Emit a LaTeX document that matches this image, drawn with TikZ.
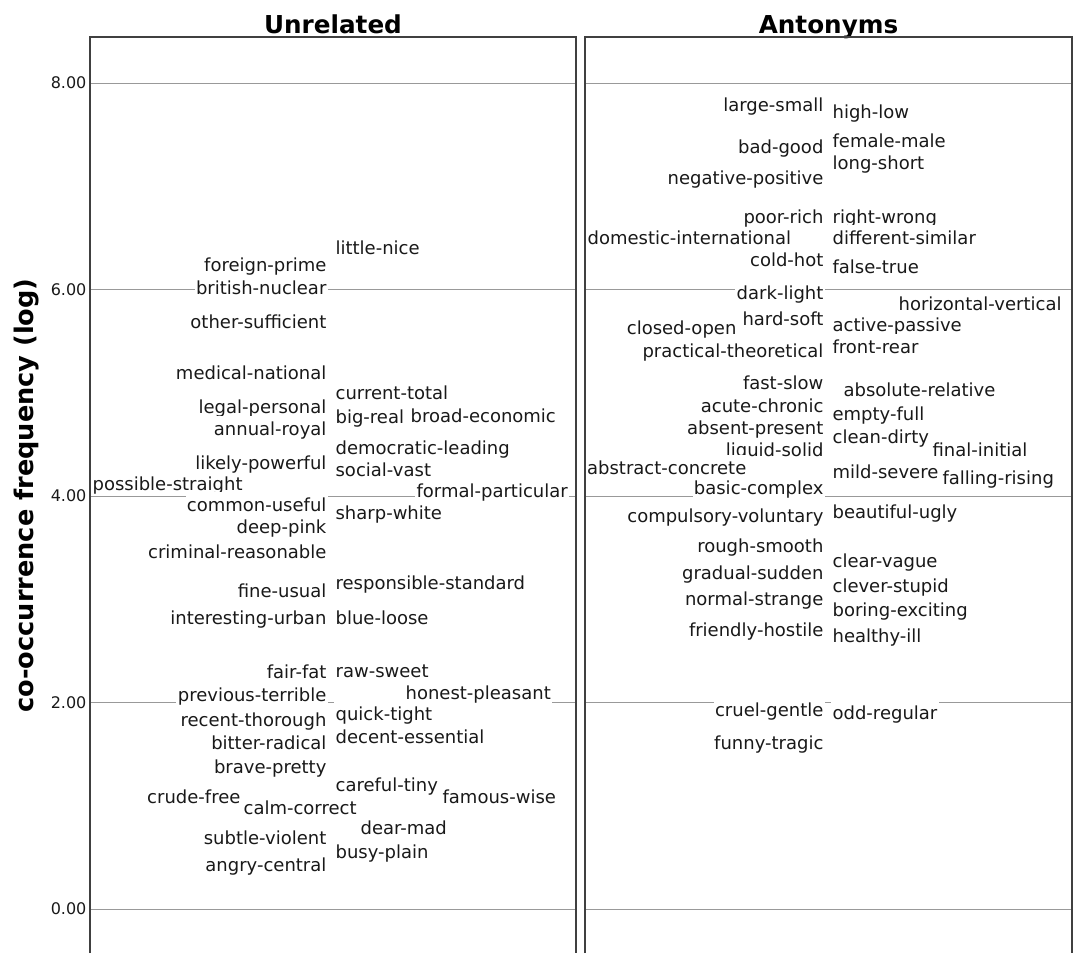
\documentclass[tikz,border=0pt]{standalone}
\usepackage{fontspec}
\setmainfont{DejaVu Sans}
\usetikzlibrary{positioning}

\begin{document}
\begin{tikzpicture}[
  x=0.75pt, y=-0.75pt,
  pair/.style={fill=white,inner xsep=1pt,inner ysep=1pt,text height=13.5pt,text depth=2pt,
    font=\fontsize{13.5}{16}\selectfont,text=black!90},
  lpair/.style={pair,anchor=east},
  rpair/.style={pair,anchor=west},
  gridline/.style={draw=black!40,line width=0.75pt},
  panelframe/.style={draw=black!75,line width=0.9pt},
  tick/.style={anchor=east,inner sep=1pt,font=\fontsize{12}{14}\selectfont,text=black!90},
  paneltitle/.style={anchor=base,inner sep=0pt,font=\bfseries\fontsize{18.5}{22}\selectfont}
]
\useasboundingbox (0,0) rectangle (1073,953);

% grid lines and ticks
\foreach \v in {0,2,4,6,8}{
  \coordinate (gl\v) at (90,909-103.25*\v);
  \coordinate (gr\v) at (585,909-103.25*\v);
  \draw[gridline] (gl\v) -- ++(486,0);
  \draw[gridline] (gr\v) -- ++(487,0);
  \node[tick] (t\v) at (88,909-103.25*\v) {\v.00};
}

\node[paneltitle] (unrelated) at (333,33) {Unrelated};
\node[paneltitle] (antonyms) at (828.5,33) {Antonyms};
\node[rotate=90,anchor=base,inner sep=0pt,font=\bfseries\fontsize{19.2}{23}\selectfont] (ylabel) at (33.5,495.5) {co-occurrence frequency (log)};

% Unrelated
\node[rpair] (littlenice) at (334,247) {little-nice};
\node[lpair] (foreignprime) at (328,264) {foreign-prime};
\node[lpair] (britishnuclear) at (328,287) {british-nuclear};
\node[lpair] (othersufficient) at (328,321) {other-sufficient};
\node[lpair] (medicalnational) at (328,372) {medical-national};
\node[rpair] (currenttotal) at (334,392) {current-total};
\node[lpair] (legalpersonal) at (328,406) {legal-personal};
\node[rpair] (bigreal) at (334,416) {big-real};
\node[rpair] (broadeconomic) at (409,415) {broad-economic};
\node[lpair] (annualroyal) at (328,428) {annual-royal};
\node[rpair] (democraticleading) at (334,447) {democratic-leading};
\node[rpair] (possiblestraight) at (91,482.5) {possible-straight};
\node[lpair] (likelypowerful) at (328,462) {likely-powerful};
\node[rpair] (socialvast) at (334,469) {social-vast};
\node[rpair] (formalparticular) at (415,490) {formal-particular};
\node[lpair] (commonuseful) at (328,504) {common-useful};
\node[rpair] (sharpwhite) at (334,512) {sharp-white};
\node[lpair] (deeppink) at (328,526) {deep-pink};
\node[lpair] (criminalreasonable) at (328,551) {criminal-reasonable};
\node[rpair] (responsiblestandard) at (334,582) {responsible-standard};
\node[lpair] (fineusual) at (328,590) {fine-usual};
\node[lpair] (interestingurban) at (328,617) {interesting-urban};
\node[rpair] (blueloose) at (334,617) {blue-loose};
\node[lpair] (fairfat) at (328,671) {fair-fat};
\node[rpair] (rawsweet) at (334,670) {raw-sweet};
\node[rpair] (honestpleasant) at (404,692) {honest-pleasant};
\node[lpair] (previousterrible) at (328,694) {previous-terrible};
\node[rpair] (quicktight) at (334,713) {quick-tight};
\node[lpair] (recentthorough) at (328,719) {recent-thorough};
\node[rpair] (decentessential) at (334,736) {decent-essential};
\node[lpair] (bitterradical) at (328,742) {bitter-radical};
\node[lpair] (bravepretty) at (328,766) {brave-pretty};
\node[rpair] (carefultiny) at (334,784) {careful-tiny};
\node[rpair] (famouswise) at (441,796) {famous-wise};
\node[lpair] (crudefree) at (242,796) {crude-free};
\node[rpair] (calmcorrect) at (242,807) {calm-correct};
\node[rpair] (dearmad) at (359,827) {dear-mad};
\node[lpair] (subtleviolent) at (328,837) {subtle-violent};
\node[rpair] (busyplain) at (334,851) {busy-plain};
\node[lpair] (angrycentral) at (328,864) {angry-central};

% Antonyms
\node[lpair] (largesmall) at (825,104) {large-small};
\node[rpair] (highlow) at (831,111) {high-low};
\node[rpair] (femalemale) at (831,140) {female-male};
\node[lpair] (badgood) at (825,146) {bad-good};
\node[rpair] (longshort) at (831,162) {long-short};
\node[lpair] (negativepositive) at (825,177) {negative-positive};
\node[rpair] (domesticinternational) at (586,237) {domestic-international};
\node[lpair] (poorrich) at (825,216) {poor-rich};
\node[rpair] (rightwrong) at (831,216) {right-wrong};
\node[rpair] (differentsimilar) at (831,237) {different-similar};
\node[lpair] (coldhot) at (825,259) {cold-hot};
\node[rpair] (falsetrue) at (831,266) {false-true};
\node[lpair] (darklight) at (825,292) {dark-light};
\node[rpair] (horizontalvertical) at (897,302.5) {horizontal-vertical};
\node[lpair] (hardsoft) at (825,318) {hard-soft};
\node[rpair] (activepassive) at (831,324) {active-passive};
\node[lpair] (closedopen) at (738,327) {closed-open};
\node[rpair] (frontrear) at (831,346) {front-rear};
\node[lpair] (practicaltheoretical) at (825,350) {practical-theoretical};
\node[lpair] (fastslow) at (825,382) {fast-slow};
\node[rpair] (absoluterelative) at (842,389) {absolute-relative};
\node[lpair] (acutechronic) at (825,405) {acute-chronic};
\node[rpair] (emptyfull) at (831,413) {empty-full};
\node[lpair] (liquidsolid) at (825,449) {liquid-solid};
\node[lpair] (absentpresent) at (825,427) {absent-present};
\node[rpair] (cleandirty) at (831,436) {clean-dirty};
\node[rpair] (finalinitial) at (931,449) {final-initial};
\node[lpair] (basiccomplex) at (825,487) {basic-complex};
\node[rpair] (abstractconcrete) at (585.5,467) {abstract-concrete};
\node[rpair] (mildsevere) at (831,471) {mild-severe};
\node[rpair] (fallingrising) at (941,477) {falling-rising};
\node[rpair] (beautifulugly) at (831,511) {beautiful-ugly};
\node[lpair] (compulsoryvoluntary) at (825,515) {compulsory-voluntary};
\node[lpair] (roughsmooth) at (825,545) {rough-smooth};
\node[rpair] (clearvague) at (831,560) {clear-vague};
\node[lpair] (gradualsudden) at (825,572) {gradual-sudden};
\node[rpair] (cleverstupid) at (831,585) {clever-stupid};
\node[lpair] (normalstrange) at (825,598) {normal-strange};
\node[rpair] (boringexciting) at (831,609) {boring-exciting};
\node[lpair] (friendlyhostile) at (825,629) {friendly-hostile};
\node[rpair] (healthyill) at (831,635) {healthy-ill};
\node[lpair] (cruelgentle) at (825,709) {cruel-gentle};
\node[rpair] (oddregular) at (831,712) {odd-regular};
\node[lpair] (funnytragic) at (825,742) {funny-tragic};

% panel frames
\coordinate (ul) at (90,37);
\coordinate (ur) at (585,37);
\draw[panelframe] (ul |- 0,953) -- (ul) -- (576,37) -- (576,953);
\draw[panelframe] (ur |- 0,953) -- (ur) -- (1072,37) -- (1072,953);
\end{tikzpicture}
\end{document}
